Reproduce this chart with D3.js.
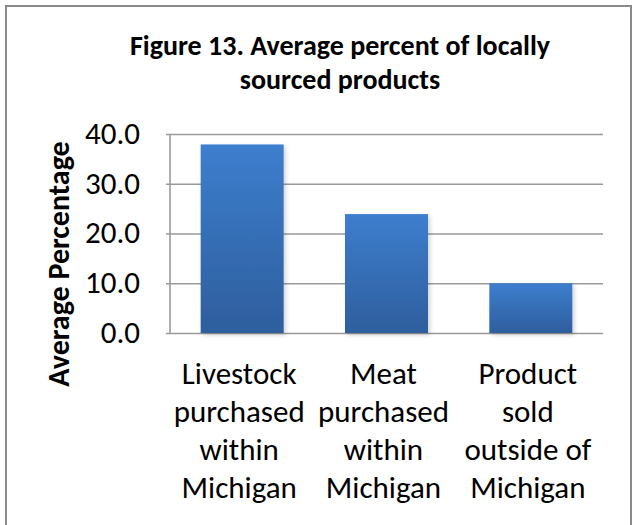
<!DOCTYPE html>
<html>
<head>
<meta charset="utf-8">
<script src="https://cdn.jsdelivr.net/npm/d3@7"></script>
<style>
  html, body { margin: 0; padding: 0; background: #fff; }
  svg { display: block; font-family: Carlito, Calibri, Lato, "Noto Sans", sans-serif; }
</style>
</head>
<body>
<svg id="chart" width="632" height="525"></svg>
<script>
const titleLines = ["Figure 13. Average percent of locally", "sourced products"];
const yTitle = "Average Percentage";
const categories = ["Livestock purchased within Michigan", "Meat purchased within Michigan", "Product sold outside of Michigan"];
const categoryLines = [
  ["Livestock", "purchased", "within", "Michigan"],
  ["Meat", "purchased", "within", "Michigan"],
  ["Product", "sold", "outside of", "Michigan"]
];
const values = [37.9, 23.9, 10.0];
const yTicks = [0, 10, 20, 30, 40];

const svg = d3.select("#chart");
const W = 632, H = 525;
const plot = { left: 170, right: 603, top: 134, bottom: 333 };

svg.append("rect").attr("width", W).attr("height", H).attr("fill", "#fff");

// outer chart border
svg.append("rect")
  .attr("x", 6).attr("y", 6).attr("width", 625).attr("height", 560)
  .attr("fill", "none").attr("stroke", "#8a8a8a").attr("stroke-width", 2);

const defs = svg.append("defs");
const grad = defs.append("linearGradient").attr("id", "barGrad")
  .attr("x1", 0).attr("y1", 0).attr("x2", 0).attr("y2", 1);
grad.append("stop").attr("offset", "0%").attr("stop-color", "#3d7ece");
grad.append("stop").attr("offset", "100%").attr("stop-color", "#2e5e9d");

const shadow = defs.append("filter").attr("id", "shadow")
  .attr("x", "-10%").attr("y", "-10%").attr("width", "130%").attr("height", "130%");
shadow.append("feDropShadow").attr("dx", 2).attr("dy", 2).attr("stdDeviation", 2)
  .attr("flood-color", "#000").attr("flood-opacity", 0.18);

const x = d3.scaleBand().domain(categories)
  .range([plot.left, plot.right]).paddingInner(0.425).paddingOuter(0.2125);
const y = d3.scaleLinear().domain([0, 40]).range([plot.bottom, plot.top]);

// gridlines + left ticks
const yAxis = d3.axisLeft(y).tickValues(yTicks).tickSize(-(plot.right - plot.left)).tickFormat(() => "");
const ga = svg.append("g").attr("transform", `translate(${plot.left},0)`).call(yAxis);
ga.select(".domain").remove();
ga.selectAll(".tick line").attr("stroke", "#9a9a9a").attr("stroke-width", 1.6)
  .attr("x1", -4);

// axis line
svg.append("line")
  .attr("x1", plot.left).attr("x2", plot.left)
  .attr("y1", y(40)).attr("y2", y(0))
  .attr("stroke", "#9a9a9a").attr("stroke-width", 1.6);

// bars
svg.append("g").selectAll("rect").data(values).join("rect")
  .attr("x", (d, i) => x(categories[i]))
  .attr("width", x.bandwidth())
  .attr("y", d => y(d))
  .attr("height", d => y(0) - y(d))
  .attr("fill", "url(#barGrad)")
  .attr("filter", "url(#shadow)");

// y tick labels
svg.append("g").selectAll("text").data(yTicks).join("text")
  .attr("x", 140).attr("y", d => y(d))
  .attr("dy", "0.32em")
  .attr("text-anchor", "end")
  .attr("font-size", 31)
  .attr("fill", "#000")
  .text(d => d.toFixed(1));

// category labels
const lineBase = [384, 422, 460, 498];
categoryLines.forEach((lines, i) => {
  const cx = x(categories[i]) + x.bandwidth() / 2 - 3;
  svg.append("g").selectAll("text").data(lines).join("text")
    .attr("x", cx).attr("y", (d, j) => lineBase[j])
    .attr("text-anchor", "middle")
    .attr("font-size", 31)
    .attr("fill", "#000")
    .text(d => d);
});

// y title
svg.append("text")
  .attr("transform", `translate(69,264) rotate(-90)`)
  .attr("text-anchor", "middle")
  .attr("font-size", 30).attr("font-weight", "bold")
  .text(yTitle);

// chart title
svg.append("g").selectAll("text").data(titleLines).join("text")
  .attr("x", 340).attr("y", (d, i) => 55 + i * 34)
  .attr("text-anchor", "middle")
  .attr("font-size", 28).attr("font-weight", "bold")
  .text(d => d);
</script>
</body>
</html>
